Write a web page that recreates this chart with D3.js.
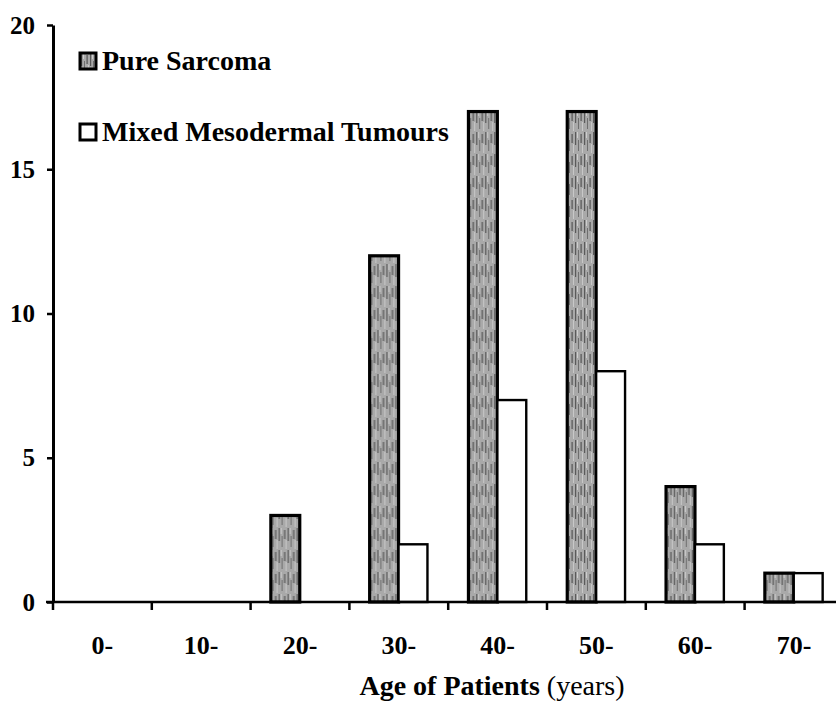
<!DOCTYPE html>
<html>
<head>
<meta charset="utf-8">
<script src="https://cdn.jsdelivr.net/npm/d3@7"></script>
<style>
  body { margin: 0; background: #fff; }
  text { font-family: "Liberation Serif", "Times New Roman", serif; }
</style>
</head>
<body>
<div id="chart"></div>
<script>
let width_chart = 836;
let height_chart = 703;

// data
const ageGroups = ["0-", "10-", "20-", "30-", "40-", "50-", "60-", "70-"];
const seriesNames = ["Pure Sarcoma", "Mixed Mesodermal Tumours"];
const pureSarcoma = [0, 0, 3, 12, 17, 17, 4, 1];
const mixedTumours = [0, 0, 0, 2, 7, 8, 2, 1];
const yTicks = [0, 5, 10, 15, 20];

var rows = ageGroups.map(function(g, i) {
    return { group: g, values: [
        { key: seriesNames[0], value: pureSarcoma[i] },
        { key: seriesNames[1], value: mixedTumours[i] }
    ]};
});

let svg = d3.select('#chart').append('svg')
    .attr('width', width_chart)
    .attr('height', height_chart);

// striped grey fill for the sarcoma bars
var defs = svg.append("defs");
var pat = defs.append("pattern")
    .attr("id", "stripes")
    .attr("patternUnits", "userSpaceOnUse")
    .attr("width", 9).attr("height", 22);
pat.append("rect").attr("width", 9).attr("height", 22).attr("fill", "#a9a9a9");
pat.append("rect").attr("x", 1).attr("y", 0).attr("width", 1.2).attr("height", 13).attr("fill", "#5a5a5a");
pat.append("rect").attr("x", 4).attr("y", 8).attr("width", 1).attr("height", 11).attr("fill", "#6e6e6e");
pat.append("rect").attr("x", 6.5).attr("y", 2).attr("width", 1.2).attr("height", 9).attr("fill", "#555");
pat.append("rect").attr("x", 3).attr("y", 0).attr("width", 0.8).attr("height", 6).attr("fill", "#d8d8d8");
pat.append("rect").attr("x", 8).attr("y", 12).attr("width", 0.8).attr("height", 9).attr("fill", "#d0d0d0");

var x0 = d3.scaleBand().domain(ageGroups).range([53, 53 + 8 * 98.8]).paddingInner(0).paddingOuter(0);
var x1 = d3.scaleBand().domain(seriesNames).range([x0.bandwidth() * 0.205, x0.bandwidth() * 0.79]);
var y = d3.scaleLinear().domain([0, 20]).range([602, 25]);

var fills = { "Pure Sarcoma": "url(#stripes)", "Mixed Mesodermal Tumours": "#fff" };
var strokes = { "Pure Sarcoma": 3.2, "Mixed Mesodermal Tumours": 2.4 };

// bars
var grp = svg.selectAll("g.grp")
    .data(rows)
    .enter().append("g")
    .attr("class", "grp")
    .attr("transform", function(d) { return "translate(" + x0(d.group) + ",0)"; });

grp.selectAll("rect")
    .data(function(d) { return d.values.filter(function(v) { return v.value > 0; }); })
    .enter().append("rect")
    .attr("x", function(d) { return x1(d.key); })
    .attr("y", function(d) { return y(d.value); })
    .attr("width", x1.bandwidth())
    .attr("height", function(d) { return y(0) - y(d.value); })
    .attr("fill", function(d) { return fills[d.key]; })
    .attr("stroke", "#000")
    .attr("stroke-width", function(d) { return strokes[d.key]; });

// y axis
var yAxis = svg.append("g")
    .attr("transform", "translate(53,0)")
    .call(d3.axisLeft(y).tickValues(yTicks).tickSize(6).tickSizeOuter(0).tickPadding(12));
yAxis.select(".domain").attr("stroke-width", 3);
yAxis.selectAll(".tick line").attr("stroke-width", 2.5);
yAxis.selectAll(".tick text")
    .attr("font-size", 25).attr("font-weight", "bold").attr("fill", "#000");

// x axis: ticks between the groups
var xAxis = svg.append("g")
    .attr("transform", "translate(0," + y(0) + ")");
xAxis.append("line")
    .attr("x1", 46).attr("x2", width_chart)
    .attr("stroke", "#000").attr("stroke-width", 2.6);
xAxis.selectAll("line.tk")
    .data(ageGroups)
    .enter().append("line")
    .attr("class", "tk")
    .attr("x1", function(d) { return x0(d); })
    .attr("x2", function(d) { return x0(d); })
    .attr("y1", 0).attr("y2", 8)
    .attr("stroke", "#000").attr("stroke-width", 2.5);
xAxis.selectAll("text")
    .data(ageGroups)
    .enter().append("text")
    .attr("x", function(d) { return x0(d) + x0.bandwidth() / 2; })
    .attr("y", 52)
    .attr("text-anchor", "middle")
    .attr("font-size", 26).attr("font-weight", "bold")
    .text(function(d) { return d; });

// axis title
var title = svg.append("text")
    .attr("x", 492).attr("y", 695)
    .attr("text-anchor", "middle")
    .attr("font-size", 28);
title.append("tspan").attr("font-weight", "bold").text("Age of Patients ");
title.append("tspan").text("(years)");

// legend
var legend = svg.selectAll("g.leg")
    .data(seriesNames)
    .enter().append("g")
    .attr("class", "leg")
    .attr("transform", function(d, i) { return "translate(80," + (53 + i * 71) + ")"; });
legend.append("rect")
    .attr("width", 16).attr("height", 16)
    .attr("fill", function(d) { return fills[d]; })
    .attr("stroke", "#000").attr("stroke-width", 3);
legend.append("text")
    .attr("x", 22).attr("y", 17)
    .attr("font-size", 28).attr("font-weight", "bold")
    .text(function(d) { return d; });
</script>
</body>
</html>
